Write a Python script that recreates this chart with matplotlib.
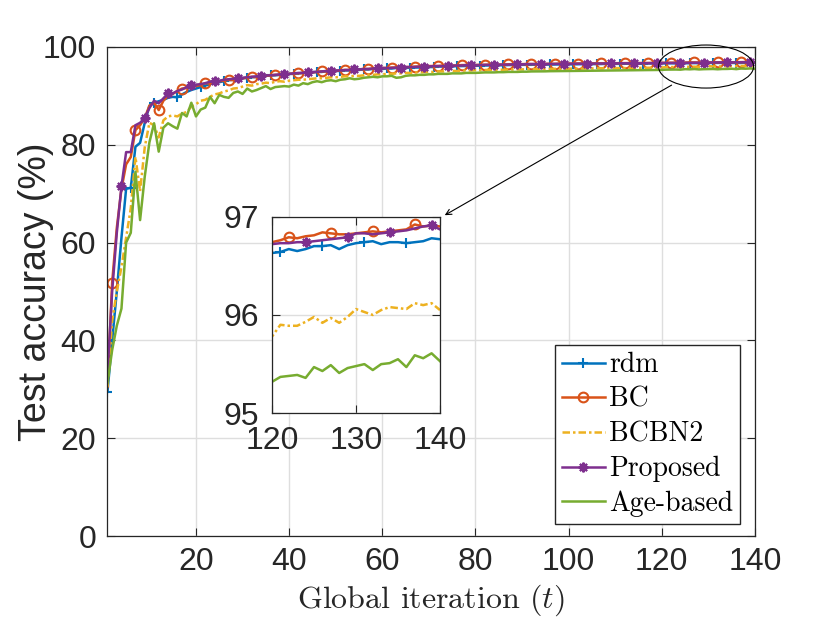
import matplotlib
matplotlib.use('Agg')
import matplotlib.pyplot as plt
from matplotlib.patches import Ellipse
import numpy as np

plt.rcParams['font.family'] = ['Liberation Sans', 'DejaVu Sans']
plt.rcParams['mathtext.fontset'] = 'cm'

# global iteration index
t = np.arange(1, 141)

# test accuracy (%)
rdm = [29.5, 40.0, 50.0, 61.0, 71.0, 71.2, 79.6, 80.4, 84.5, 88.0,
       88.6, 88.9, 89.2, 89.6, 89.8, 89.7, 90.3, 90.8, 91.2, 91.5,
       91.8, 92.1, 92.4, 92.6, 92.8, 93.0, 93.2, 93.3, 93.4, 93.6,
       93.7, 93.8, 93.9, 94.0, 94.1, 94.2, 94.2, 94.3, 94.4, 94.5,
       94.5, 94.6, 94.7, 94.7, 94.8, 94.9, 94.9, 95.0, 95.0, 95.1,
       95.1, 95.2, 95.2, 95.3, 95.3, 95.4, 95.4, 95.5, 95.5, 95.5,
       95.6, 95.6, 95.7, 95.7, 95.7, 95.8, 95.8, 95.8, 95.9, 95.9,
       95.9, 96.0, 96.0, 96.0, 96.0, 96.1, 96.1, 96.1, 96.1, 96.2,
       96.2, 96.2, 96.22, 96.25, 96.25, 96.28, 96.3, 96.3, 96.32, 96.35,
       96.35, 96.37, 96.38, 96.4, 96.4, 96.42, 96.43, 96.44, 96.45, 96.46,
       96.47, 96.48, 96.49, 96.5, 96.5, 96.51, 96.52, 96.53, 96.54, 96.55,
       96.55, 96.56, 96.57, 96.58, 96.58, 96.59, 96.6, 96.61, 96.62, 96.63,
       96.64, 96.67, 96.65, 96.67, 96.70, 96.70, 96.71, 96.67, 96.71, 96.73,
       96.74, 96.75, 96.72, 96.74, 96.74, 96.73, 96.74, 96.75, 96.78, 96.77]

bc = [30.5, 51.8, 63.0, 71.0, 76.0, 77.5, 83.0, 84.0, 85.5, 88.0,
      88.6, 87.1, 89.0, 90.0, 90.4, 91.0, 91.5, 91.6, 91.9, 92.0,
      92.2, 92.6, 92.5, 92.8, 93.0, 93.1, 93.3, 93.2, 93.5, 93.6,
      93.7, 93.9, 93.8, 94.0, 94.1, 94.2, 94.3, 94.3, 94.4, 94.5,
      94.6, 94.6, 94.7, 94.8, 94.8, 94.9, 95.0, 95.0, 95.1, 95.1,
      95.2, 95.3, 95.3, 95.4, 95.4, 95.5, 95.5, 95.6, 95.6, 95.7,
      95.7, 95.8, 95.8, 95.8, 95.9, 95.9, 96.0, 96.0, 96.0, 96.1,
      96.1, 96.1, 96.2, 96.2, 96.2, 96.2, 96.3, 96.3, 96.3, 96.3,
      96.35, 96.35, 96.4, 96.4, 96.4, 96.4, 96.45, 96.45, 96.45, 96.5,
      96.5, 96.5, 96.5, 96.55, 96.55, 96.55, 96.55, 96.6, 96.6, 96.6,
      96.6, 96.62, 96.63, 96.63, 96.65, 96.65, 96.66, 96.67, 96.68, 96.68,
      96.69, 96.7, 96.7, 96.71, 96.71, 96.72, 96.72, 96.73, 96.73, 96.74,
      96.76, 96.79, 96.78, 96.8, 96.81, 96.84, 96.83, 96.82, 96.82, 96.83,
      96.84, 96.85, 96.84, 96.85, 96.86, 96.87, 96.92, 96.9, 96.91, 96.9]

bcbn2 = [30.5, 44.0, 50.0, 55.0, 61.0, 67.0, 77.5, 70.5, 79.5, 84.5,
         84.0, 81.5, 85.0, 85.8, 86.0, 85.8, 86.4, 86.7, 87.8, 88.3,
         89.0, 89.2, 89.8, 90.3, 90.5, 90.9, 91.1, 91.5, 91.6, 91.9,
         92.2, 92.1, 92.4, 92.5, 92.7, 92.6, 92.9, 93.0, 92.9, 93.1,
         93.2, 93.3, 93.3, 93.4, 93.5, 93.6, 93.6, 93.7, 93.8, 93.8,
         93.9, 94.0, 94.0, 94.1, 94.1, 94.2, 94.3, 94.3, 94.4, 94.4,
         94.5, 94.5, 94.6, 94.6, 94.7, 94.7, 94.8, 94.8, 94.85, 94.9,
         94.9, 95.0, 95.0, 95.05, 95.1, 95.1, 95.15, 95.2, 95.2, 95.25,
         95.25, 95.3, 95.3, 95.32, 95.35, 95.35, 95.38, 95.4, 95.4, 95.42,
         95.45, 95.45, 95.48, 95.5, 95.5, 95.52, 95.53, 95.55, 95.55, 95.57,
         95.58, 95.6, 95.6, 95.62, 95.63, 95.64, 95.65, 95.66, 95.67, 95.68,
         95.69, 95.7, 95.7, 95.71, 95.72, 95.73, 95.74, 95.75, 95.76, 95.78,
         95.90, 95.89, 95.89, 95.93, 95.98, 95.92, 95.97, 95.92, 95.98, 96.06,
         96.03, 96.0, 96.05, 96.08, 96.07, 96.06, 96.12, 96.1, 96.12, 96.05]

proposed = [33.0, 50.0, 62.0, 71.5, 78.5, 78.5, 84.0, 84.5, 85.5, 87.5,
            89.0, 88.5, 89.5, 90.5, 90.5, 91.0, 91.3, 91.8, 92.2, 92.3,
            92.4, 92.6, 92.9, 93.0, 93.1, 93.3, 93.4, 93.5, 93.6, 93.7,
            93.8, 93.9, 94.0, 94.1, 94.2, 94.2, 94.3, 94.4, 94.5, 94.5,
            94.6, 94.7, 94.7, 94.8, 94.9, 94.9, 95.0, 95.1, 95.1, 95.2,
            95.2, 95.3, 95.3, 95.4, 95.4, 95.5, 95.5, 95.6, 95.6, 95.7,
            95.7, 95.7, 95.8, 95.8, 95.9, 95.9, 95.9, 96.0, 96.0, 96.0,
            96.1, 96.1, 96.1, 96.2, 96.2, 96.2, 96.2, 96.3, 96.3, 96.3,
            96.3, 96.35, 96.35, 96.4, 96.4, 96.4, 96.4, 96.45, 96.45, 96.45,
            96.5, 96.5, 96.5, 96.5, 96.52, 96.53, 96.55, 96.55, 96.56, 96.57,
            96.58, 96.58, 96.6, 96.6, 96.61, 96.62, 96.62, 96.63, 96.64, 96.65,
            96.65, 96.66, 96.67, 96.67, 96.68, 96.69, 96.7, 96.7, 96.71, 96.72,
            96.73, 96.73, 96.74, 96.74, 96.75, 96.76, 96.77, 96.78, 96.79, 96.83,
            96.83, 96.82, 96.83, 96.84, 96.85, 96.86, 96.88, 96.9, 96.91, 96.87]

age_based = [31.3, 38.0, 43.0, 46.5, 60.0, 62.0, 74.5, 64.6, 73.5, 80.5,
             84.4, 78.6, 83.5, 84.4, 83.8, 83.3, 86.5, 85.8, 88.6, 85.8,
             87.2, 87.6, 89.8, 88.5, 90.2, 89.8, 89.6, 90.6, 90.9, 90.4,
             91.5, 90.9, 91.2, 91.6, 92.0, 91.4, 91.8, 91.9, 92.0, 91.9,
             92.3, 92.1, 92.6, 92.4, 92.8, 93.0, 92.8, 93.1, 93.2, 93.0,
             93.3, 93.4, 93.6, 93.4, 93.5, 93.7, 93.8, 93.9, 93.8, 94.0,
             94.0, 94.1, 93.7, 93.8, 94.1, 94.2, 94.2, 94.3, 94.3, 94.4,
             94.4, 94.5, 94.5, 94.5, 94.6, 94.6, 94.6, 94.7, 94.7, 94.7,
             94.75, 94.8, 94.8, 94.8, 94.85, 94.85, 94.9, 94.9, 94.9, 94.95,
             94.95, 95.0, 95.0, 95.0, 95.02, 95.05, 95.05, 95.07, 95.08, 95.1,
             95.1, 95.12, 95.13, 95.14, 95.15, 95.16, 95.17, 95.18, 95.19, 95.2,
             95.21, 95.22, 95.23, 95.24, 95.25, 95.26, 95.27, 95.28, 95.3, 95.32,
             95.37, 95.38, 95.39, 95.36, 95.47, 95.43, 95.49, 95.41, 95.46, 95.48,
             95.50, 95.44, 95.50, 95.51, 95.55, 95.47, 95.59, 95.56, 95.61, 95.53]

series = [
    ('rdm', rdm, '#0072BD', '-', '+', (0, 5)),
    ('BC', bc, '#D95319', '-', 'o', (1, 5)),
    ('BCBN2', bcbn2, '#EDB120', (0, (3, 1.2, 1, 1.2)), None, None),
    ('Proposed', proposed, '#7E2F8E', '-', (8, 2, 0), (3, 5)),
    ('Age-based', age_based, '#77AC30', '-', None, None),
]

axcol = '#262626'
gridcol = '#DEDEDE'


def draw(ax, pad):
    for name, y, c, ls, mk, every in series:
        ax.plot(t, y, color=c, linestyle=ls, linewidth=1.8, marker=mk,
                markevery=every, markersize=7, markeredgewidth=1.5,
                markerfacecolor='none', label=name)
    ax.grid(True, color=gridcol, linewidth=1.0)
    ax.set_axisbelow(True)
    ax.tick_params(direction='in', top=True, right=True, length=6,
                   width=0.8, colors=axcol, labelsize=23, pad=pad)
    for s in ax.spines.values():
        s.set_color(axcol)
        s.set_linewidth(0.9)


fig = plt.figure(figsize=(8.3, 6.23), dpi=100)
ax = fig.add_axes([0.1295, 0.1396, 0.7801, 0.785])
draw(ax, 8)
ax.set_xlim(1, 140)
ax.set_ylim(0, 100)
ax.set_xticks([20, 40, 60, 80, 100, 120, 140])
ax.set_yticks([0, 20, 40, 60, 80, 100])
ax.set_ylabel('Test accuracy (%)', fontsize=27, color=axcol)
ax.yaxis.set_label_coords(-0.082, 0.5)
ax.set_xlabel('Global iteration ($t$)', fontsize=23, family='cmr10',
              color=axcol, labelpad=4)

leg = ax.legend(loc='lower right', bbox_to_anchor=(0.8916, 0.1589),
                bbox_transform=fig.transFigure, borderaxespad=0,
                prop={'family': 'cmr10', 'size': 20}, fancybox=False,
                framealpha=1, edgecolor='#262626', handlelength=1.55,
                handletextpad=0.15, borderpad=0.25, labelspacing=0.3)
leg.get_frame().set_linewidth(1.0)

# zoom ellipse and arrow to the inset
ell = Ellipse((129.5, 96.0), 20.4, 8.8, fill=False, edgecolor='k',
              linewidth=0.8, clip_on=False, zorder=5)
ax.add_patch(ell)
ax.annotate('', xy=(73.4, 65.6), xytext=(122.1, 92.2),
            arrowprops=dict(arrowstyle='->', color='k', lw=0.8,
                            shrinkA=0, shrinkB=0))

axin = fig.add_axes([0.3277, 0.3366, 0.2024, 0.3157])
axin.set_facecolor('white')
draw(axin, 9)
axin.set_xlim(120, 140)
axin.set_ylim(95, 97)
axin.set_xticks([120, 130, 140])
axin.set_yticks([95, 96, 97])

fig.savefig('out.png', dpi=100)
